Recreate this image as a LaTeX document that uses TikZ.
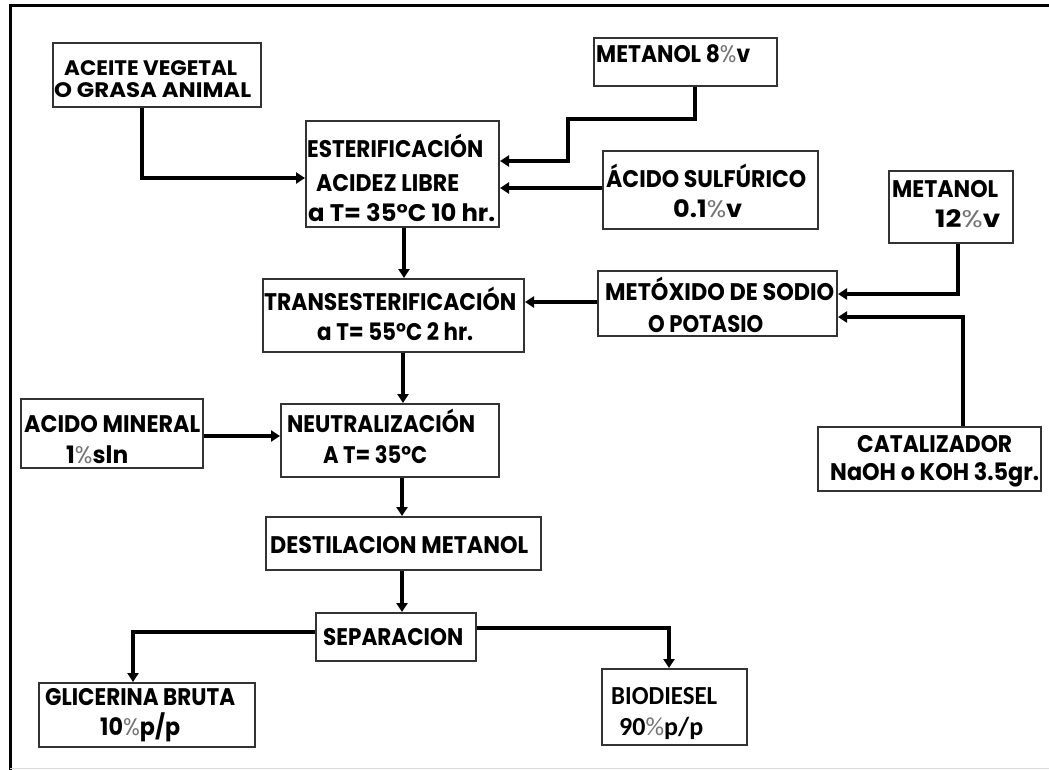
\documentclass[tikz,border=0pt]{standalone}
\usepackage{fontspec}
\usepackage{graphicx}
\newfontfamily\pf{Poppins}
\newfontfamily\cf{Carlito}
\usetikzlibrary{arrows.meta,fit}
\newcommand\pct{{\mdseries\color{black!55}\%}}
\newcommand\fw[2]{\resizebox{#1pt}{\height}{#2}}
\begin{document}
\begin{tikzpicture}[x=1pt,y=-1pt,
  box/.style={draw=black!80,line width=2pt,inner sep=0pt,rectangle},
  txt/.style={inner sep=0pt,anchor=base west,font=\pf\bfseries\fontsize{24}{26}\selectfont},
  stxt/.style={inner sep=0pt,anchor=base west,font=\pf\bfseries\fontsize{21}{23}\selectfont},
  btxt/.style={inner sep=0pt,anchor=base west,font=\cf\bfseries\fontsize{26}{28}\selectfont},
  conn/.style={line width=3.2pt,-{Triangle[length=9pt,width=11pt]}}]
\useasboundingbox (0,0) rectangle (1049,770);
% frame
\draw[line width=3pt] (10,770) -- (10,6) -- (1049,6);
\draw[black!15,line width=1pt] (10,768) -- (1049,768);
% boxes
\node[box,fit={(53,43)(261,107)}] (aceite) {};
\node[box,fit={(306,121)(499,227)}] (ester) {};
\node[box,fit={(594,38)(777,86)}] (met8) {};
\node[box,fit={(603,151)(818,229)}] (sulf) {};
\node[box,fit={(889,171)(1013,243)}] (met12) {};
\node[box,fit={(263,279)(524,352)}] (trans) {};
\node[box,fit={(598,271)(837,336)}] (metox) {};
\node[box,fit={(818,427)(1041,491)}] (catal) {};
\node[box,fit={(21,399)(203,468)}] (acmin) {};
\node[box,fit={(281,404)(499,477)}] (neutr) {};
\node[box,fit={(266,517)(541,570)}] (destil) {};
\node[box,fit={(316,613)(476,661)}] (separ) {};
\node[box,fit={(39,683)(255,747)}] (glic) {};
\node[box,fit={(602,669)(747,745)}] (bio) {};
% texts
\node[stxt] (t1) at (64,76) {\fw{173}{ACEITE VEGETAL}};
\node[stxt] (t2) at (54,98) {\fw{197}{O GRASA ANIMAL}};
\node[txt] (t3) at (307,158) {\fw{176}{ESTERIFICACIÓN}};
\node[txt] (t4) at (316,192) {\fw{143}{ACIDEZ LIBRE}};
\node[txt] (t5) at (308,222) {\fw{187}{a T= 35°C 10 hr.}};
\node[txt] (t6) at (596,63) {\fw{154}{METANOL 8\pct v}};
\node[txt] (t7) at (606,188) {\fw{200}{ÁCIDO SULFÚRICO}};
\node[txt] (t8) at (673,218) {\fw{69}{0.1\pct v}};
\node[txt] (t9) at (892,198) {\fw{106}{METANOL}};
\node[txt] (t10) at (935,228) {\fw{65}{12\pct v}};
\node[txt] (t11) at (264,310) {\fw{252}{TRANSESTERIFICACIÓN}};
\node[txt] (t12) at (317,340) {\fw{156}{a T= 55°C 2 hr.}};
\node[txt] (t13) at (605,300) {\fw{229}{METÓXIDO DE SODIO}};
\node[txt] (t14) at (648,332) {\fw{115}{O POTASIO}};
\node[txt] (t15) at (857,452) {\fw{155}{CATALIZADOR}};
\node[txt] (t16) at (830,480) {\fw{209}{NaOH o KOH 3.5gr.}};
\node[txt] (t17) at (24,432) {\fw{176}{ACIDO MINERAL}};
\node[txt] (t18) at (66,463) {\fw{62}{1\pct sln}};
\node[txt] (t19) at (287,432) {\fw{188}{NEUTRALIZACIÓN}};
\node[txt] (t20) at (323,463) {\fw{104}{A T= 35°C}};
\node[txt] (t21) at (270,553) {\fw{258}{DESTILACION METANOL}};
\node[txt] (t22) at (323,645) {\fw{140}{SEPARACION}};
\node[txt] (t23) at (45,705) {\fw{190}{GLICERINA BRUTA}};
\node[txt] (t24) at (100,735) {\fw{80}{10\pct p/p}};
\node[btxt] (t25) at (611,704) {\fw{106}{BIODIESEL}};
\node[btxt] (t26) at (619,735) {\fw{84}{90\pct p/p}};
% connectors
\draw[conn] (aceite.south -| 142,0) |- (ester.west |- 0,178);
\draw[conn] (met8.south -| 695,0) -- (695,119) -- (568,119) -- (568,161) -- (ester.east |- 0,161);
\draw[conn] (sulf.west |- 0,188) -- (ester.east |- 0,188);
\draw[conn] (ester.south -| 404,0) -- (trans.north -| 404,0);
\draw[conn] (metox.west |- 0,302) -- (trans.east |- 0,302);
\draw[conn] (met12.south -| 958,0) |- (metox.east |- 0,294);
\draw[conn] (catal.north -| 963,0) |- (metox.east |- 0,317);
\draw[conn] (trans.south -| 403,0) -- (neutr.north -| 403,0);
\draw[conn] (acmin.east |- 0,436) -- (neutr.west |- 0,436);
\draw[conn] (neutr.south -| 402,0) -- (destil.north -| 402,0);
\draw[conn] (destil.south -| 402,0) -- (separ.north -| 402,0);
\draw[conn] (separ.west |- 0,632) -| (glic.north -| 133,0);
\draw[conn] (separ.east |- 0,628) -| (bio.north -| 669,0);
\end{tikzpicture}
\end{document}
